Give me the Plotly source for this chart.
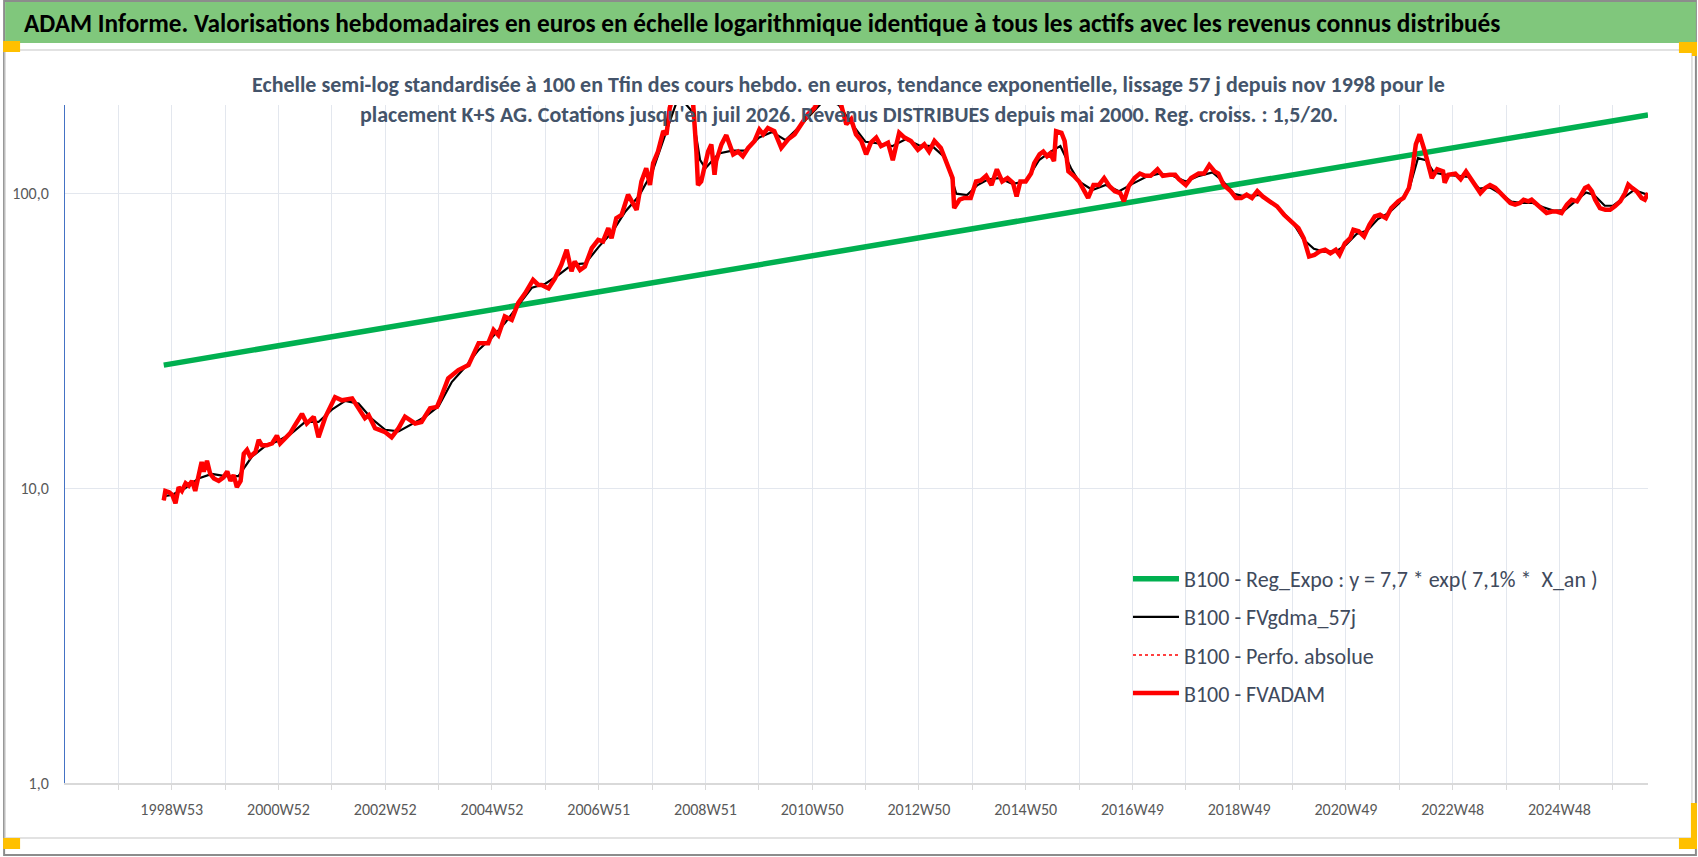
import datetime as dt
import math
import plotly.graph_objects as go

# étiquettes de l'axe des catégories (semaines ISO, une toutes les 104 semaines)
tick_labels = ["1998W53", "2000W52", "2002W52", "2004W52", "2006W51", "2008W51", "2010W50",
               "2012W50", "2014W50", "2016W49", "2018W49", "2020W49", "2022W48", "2024W48"]

# temps, en "années" de 52 semaines comptées depuis 1998W53 (= 1999.0)
t_adam = [1998.85, 1998.88, 1998.95, 1999.01, 1999.07, 1999.13, 1999.19, 1999.26, 1999.32, 1999.38,
          1999.44, 1999.51, 1999.56, 1999.60, 1999.66, 1999.72, 1999.79, 1999.88, 1999.97, 2000.04,
          2000.10, 2000.16, 2000.22, 2000.29, 2000.35, 2000.41, 2000.47, 2000.57, 2000.63, 2000.69,
          2000.78, 2000.88, 2000.97, 2001.03, 2001.13, 2001.22, 2001.31, 2001.44, 2001.53, 2001.66,
          2001.75, 2001.88, 2002.06, 2002.19, 2002.38, 2002.50, 2002.62, 2002.69, 2002.81, 2003.00,
          2003.12, 2003.25, 2003.37, 2003.56, 2003.68, 2003.84, 2003.97, 2004.06, 2004.18, 2004.37,
          2004.56, 2004.75, 2004.93, 2005.03, 2005.12, 2005.24, 2005.37, 2005.49, 2005.62, 2005.77,
          2005.87, 2005.93, 2006.06, 2006.18, 2006.30, 2006.40, 2006.49, 2006.55, 2006.65, 2006.74,
          2006.87, 2006.99, 2007.08, 2007.18, 2007.24, 2007.33, 2007.43, 2007.55, 2007.65, 2007.71,
          2007.80, 2007.89, 2007.96, 2008.02, 2008.11, 2008.21, 2008.27, 2008.33, 2008.45, 2008.60,
          2008.72, 2008.77, 2008.83, 2008.86, 2008.92, 2008.98, 2009.05, 2009.11, 2009.17, 2009.20,
          2009.30, 2009.39, 2009.52, 2009.61, 2009.70, 2009.80, 2009.92, 2010.01, 2010.08, 2010.17,
          2010.29, 2010.42, 2010.55, 2010.67, 2010.79, 2010.92, 2011.04, 2011.20, 2011.38, 2011.50,
          2011.54, 2011.64, 2011.73, 2011.82, 2011.92, 2012.01, 2012.10, 2012.20, 2012.29, 2012.42,
          2012.51, 2012.63, 2012.73, 2012.85, 2012.98, 2013.10, 2013.19, 2013.29, 2013.41, 2013.54,
          2013.63, 2013.66, 2013.76, 2013.85, 2013.97, 2014.07, 2014.16, 2014.26, 2014.36, 2014.46,
          2014.56, 2014.66, 2014.76, 2014.83, 2014.90, 2015.00, 2015.10, 2015.16, 2015.26, 2015.33,
          2015.40, 2015.46, 2015.53, 2015.57, 2015.67, 2015.73, 2015.80, 2015.90, 2016.00, 2016.10,
          2016.17, 2016.27, 2016.37, 2016.47, 2016.57, 2016.67, 2016.77, 2016.84, 2016.93, 2017.04,
          2017.14, 2017.24, 2017.34, 2017.47, 2017.57, 2017.70, 2017.80, 2017.87, 2018.00, 2018.10,
          2018.24, 2018.34, 2018.44, 2018.54, 2018.61, 2018.71, 2018.84, 2018.94, 2019.04, 2019.14,
          2019.24, 2019.34, 2019.44, 2019.57, 2019.71, 2019.84, 2019.97, 2020.11, 2020.21, 2020.31,
          2020.41, 2020.51, 2020.61, 2020.71, 2020.81, 2020.88, 2020.98, 2021.08, 2021.14, 2021.24,
          2021.34, 2021.44, 2021.54, 2021.64, 2021.75, 2021.85, 2021.98, 2022.08, 2022.18, 2022.25,
          2022.31, 2022.38, 2022.48, 2022.55, 2022.61, 2022.71, 2022.82, 2022.85, 2022.92, 2023.05,
          2023.15, 2023.25, 2023.35, 2023.48, 2023.52, 2023.61, 2023.70, 2023.80, 2023.89, 2023.98,
          2024.08, 2024.17, 2024.26, 2024.33, 2024.42, 2024.48, 2024.58, 2024.67, 2024.76, 2024.86,
          2024.95, 2025.04, 2025.14, 2025.23, 2025.33, 2025.39, 2025.48, 2025.54, 2025.61, 2025.67,
          2025.76, 2025.86, 2025.95, 2026.04, 2026.14, 2026.23, 2026.29, 2026.36, 2026.45, 2026.54,
          2026.60, 2026.66]
v_adam = [9.1, 9.8, 9.7, 9.5, 8.9, 10.1, 9.8, 10.4, 10.2, 10.6,
          9.8, 11.5, 12.3, 11.4, 12.4, 11.2, 10.8, 10.6, 10.9, 11.4,
          10.6, 11.1, 10.1, 10.6, 13.1, 13.5, 12.8, 13.3, 14.6, 14.0,
          14.0, 14.2, 15.1, 14.2, 14.8, 15.4, 16.4, 17.9, 16.6, 17.5,
          14.9, 17.5, 20.4, 19.9, 20.2, 18.7, 17.3, 17.7, 16.0, 15.5,
          14.9, 16.0, 17.5, 16.6, 16.8, 18.7, 18.9, 20.7, 23.6, 25.2,
          26.2, 31.1, 31.1, 34.5, 33.1, 38.3, 37.3, 42.5, 45.9, 51.0,
          49.0, 49.0, 47.7, 51.6, 57.4, 64.5, 54.5, 58.9, 55.1, 56.6,
          65.3, 69.7, 68.9, 76.4, 70.6, 82.6, 84.8, 99.2, 91.8, 88.2,
          110, 122, 107, 127, 139, 163, 159, 195, 235, 245,
          220, 201, 139, 107, 110, 122, 139, 147, 116, 129,
          147, 158, 136, 139, 134, 143, 151, 165, 159, 167,
          163, 143, 153, 159, 172, 186, 195, 220, 230, 212,
          201, 172, 179, 159, 151, 136, 149, 155, 145, 149,
          130, 161, 155, 151, 141, 147, 139, 151, 143, 125,
          113, 89.4, 95.4, 96.7, 96.7, 110, 111, 115, 107, 121,
          110, 113, 109, 97.9, 110, 110, 117, 127, 136, 139,
          134, 137, 129, 163, 161, 151, 119, 115, 110, 102,
          96.7, 107, 107, 113, 106, 102, 100.5, 94.2, 106, 113,
          117, 115, 115, 121, 115, 116, 116, 112, 107, 113,
          117, 117, 125, 119, 117, 107, 102, 96.7, 96.7, 99.2,
          96.7, 102, 97.9, 94.2, 90.6, 84.8, 80.5, 76.4, 70.6, 61.2,
          62.0, 63.7, 64.5, 62.8, 64.5, 62.0, 67.9, 70.6, 75.4, 74.5,
          71.6, 78.4, 83.7, 84.8, 82.6, 89.4, 94.2, 96.7, 104.5, 122,
          147, 159, 139, 122, 113, 121, 119, 109, 116, 117,
          112, 119, 112, 102, 100.5, 104.6, 107, 104.6, 100.5, 96.7,
          93.0, 91.8, 93.0, 95.4, 94.2, 95.4, 91.8, 89.4, 86.0, 87.0,
          87.0, 86.0, 91.8, 95.4, 94.2, 97.9, 104.6, 105.9, 101.8, 95.4,
          89.4, 88.2, 88.2, 90.6, 94.2, 100.5, 107.3, 104.6, 101.8, 96.7,
          95.4, 100.5]

# moyenne lissée 57 j (FVgdma_57j)
t_gdma = [1998.85, 1999.0, 1999.25, 1999.5, 1999.75, 2000.0, 2000.25, 2000.5, 2000.75, 2001.0,
          2001.25, 2001.5, 2001.75, 2002.0, 2002.25, 2002.5, 2002.75, 2003.0, 2003.25, 2003.5,
          2003.75, 2004.0, 2004.25, 2004.5, 2004.75, 2005.0, 2005.25, 2005.5, 2005.75, 2006.0,
          2006.25, 2006.5, 2006.75, 2007.0, 2007.25, 2007.5, 2007.75, 2008.0, 2008.25, 2008.5,
          2008.75, 2008.9, 2009.0, 2009.25, 2009.5, 2009.75, 2010.0, 2010.25, 2010.5, 2010.75,
          2011.0, 2011.25, 2011.5, 2011.75, 2012.0, 2012.25, 2012.5, 2012.75, 2013.0, 2013.25,
          2013.5, 2013.7, 2013.9, 2014.1, 2014.3, 2014.5, 2014.75, 2015.0, 2015.25, 2015.5,
          2015.65, 2015.85, 2016.0, 2016.25, 2016.5, 2016.75, 2017.0, 2017.25, 2017.5, 2017.75,
          2018.0, 2018.25, 2018.5, 2018.7, 2018.9, 2019.1, 2019.4, 2019.6, 2019.8, 2020.0,
          2020.2, 2020.4, 2020.6, 2020.8, 2021.0, 2021.2, 2021.4, 2021.6, 2021.8, 2022.0,
          2022.2, 2022.35, 2022.5, 2022.65, 2022.85, 2023.1, 2023.3, 2023.5, 2023.7, 2023.9,
          2024.1, 2024.3, 2024.5, 2024.7, 2024.9, 2025.1, 2025.3, 2025.5, 2025.65, 2025.85,
          2026.0, 2026.2, 2026.4, 2026.66]
v_gdma = [9.4, 9.5, 10.0, 10.8, 11.2, 11.0, 11.0, 12.8, 13.9, 14.5,
          15.4, 16.8, 16.8, 18.5, 19.8, 19.4, 17.2, 15.8, 15.6, 16.5,
          17.5, 19.0, 23.0, 25.8, 29.5, 32.5, 36.5, 42.0, 48.0, 49.5,
          53.0, 57.5, 58.0, 66.0, 74.0, 87.0, 98.0, 118, 160, 215,
          190, 130, 122, 137, 140, 140, 155, 162, 152, 168,
          188, 210, 200, 172, 150, 148, 145, 153, 146, 145,
          132, 100, 99, 107, 112, 113, 108, 110, 130, 140,
          145, 122, 110, 103, 107, 102, 108, 114, 117, 115,
          110, 115, 118, 110, 100, 98, 99, 94, 87, 80,
          70, 65, 63.5, 63.5, 67, 73, 75, 82, 86, 93,
          106, 132, 130, 118, 116, 115, 114, 104, 105, 100,
          94, 93, 93, 90, 87.5, 88, 94, 101, 99, 91,
          91, 97, 103, 99]

# régression exponentielle : extrémités
t_reg = [1998.85, 2026.66]
v_reg = [26.2, 185.0]

names = ["B100 - Reg_Expo : y = 7,7 * exp( 7,1% *  X_an )", "B100 - FVgdma_57j",
         "B100 - Perfo. absolue", "B100 - FVADAM"]

title_txt = ("ADAM Informe. Valorisations hebdomadaires en euros en échelle logarithmique identique "
             "à tous les actifs avec les revenus connus distribués")
sub1 = ("Echelle semi-log standardisée à 100 en Tfin des cours hebdo. en euros, tendance exponentielle, "
        "lissage 57 j depuis nov 1998 pour le")
sub2 = ("placement K+S AG. Cotations jusqu'en juil 2026. Revenus DISTRIBUES depuis mai 2000. "
        "Reg. croiss. : 1,5/20.")

FONT = "Carlito, Calibri, Lato, sans-serif"
W, H = 1698, 857
L, R, T, B = 62, 50, 105, 74

base = dt.datetime(*dt.date.fromisocalendar(1998, 53, 1).timetuple()[:3])


def to_date(t):
    return base + dt.timedelta(days=(t - 1999.0) * 364)


def px(x):
    return (x - L) / (W - L - R)


def py(y):
    return (H - B - y) / (H - T - B)


lab_dates = [dt.datetime(*dt.date.fromisocalendar(int(s[:4]), int(s[5:]), 1).timetuple()[:3])
             for s in tick_labels]
year = dt.timedelta(days=364)
tickvals = [lab_dates[0] - year]
ticktext = [""]
for d, s in zip(lab_dates, tick_labels):
    tickvals += [d, d + year]
    ticktext += [s, ""]

fig = go.Figure()
fig.add_trace(go.Scatter(x=[to_date(t) for t in t_reg], y=v_reg, mode="lines", name=names[0],
                         legendgroup="a", line=dict(color="#00b050", width=5.5)))
fig.add_trace(go.Scatter(x=[to_date(t) for t in t_gdma], y=v_gdma, mode="lines", name=names[1],
                         legendgroup="b", line=dict(color="#000000", width=2.2)))
fig.add_trace(go.Scatter(x=[to_date(t) for t in t_adam], y=v_adam, mode="lines", name=names[2],
                         legendgroup="c", line=dict(color="#ff0000", width=1.5, dash="dot")))
fig.add_trace(go.Scatter(x=[to_date(t) for t in t_adam], y=v_adam, mode="lines", name=names[3],
                         legendgroup="d", line=dict(color="#ff0000", width=4.5)))

shapes = [
    # cadre extérieur
    dict(type="rect", xref="paper", yref="paper", x0=px(1), x1=px(1696), y0=py(855), y1=py(1),
         line=dict(color="#8c8c8c", width=2), layer="below"),
    # zone du graphique
    dict(type="rect", xref="paper", yref="paper", x0=px(2), x1=px(1692), y0=py(838), y1=py(50),
         line=dict(color="#d9d9d9", width=1.5), layer="below"),
    # bandeau titre
    dict(type="rect", xref="paper", yref="paper", x0=px(2), x1=px(1696), y0=py(43), y1=py(2),
         fillcolor="#80c77c", line=dict(width=0), layer="below"),
]
for (x0, y0, x1, y1) in [(0, 41, 17, 52), (1679, 42, 1697, 53), (1692, 42, 1697, 56),
                         (0, 838, 17, 849), (1679, 838, 1697, 849), (1691, 803, 1697, 849)]:
    shapes.append(dict(type="rect", xref="paper", yref="paper", x0=px(x0), x1=px(x1),
                       y0=py(y1), y1=py(y0), fillcolor="#ffc000", line=dict(width=0)))

fig.update_layout(
    width=W, height=H,
    margin=dict(l=L, r=R, t=T, b=B),
    paper_bgcolor="white", plot_bgcolor="white",
    font=dict(family=FONT, color="#595959"),
    title=dict(text="<b>" + title_txt + "</b>", x=24 / W, xanchor="left", xref="container",
               y=1 - 23 / H, yanchor="middle", yref="container",
               font=dict(family=FONT, size=25.3, color="#000000")),
    shapes=shapes,
    annotations=[
        dict(text="<b>" + sub1 + "</b>", xref="paper", yref="paper", x=px(847), y=py(84.5),
             xanchor="center", yanchor="middle", showarrow=False,
             font=dict(family=FONT, size=22, color="#44546a")),
        dict(text="<b>" + sub2 + "</b>", xref="paper", yref="paper", x=px(847), y=py(114),
             xanchor="center", yanchor="middle", showarrow=False,
             font=dict(family=FONT, size=22, color="#44546a")),
    ],
    legend=dict(x=px(1127), y=py(558), xanchor="left", yanchor="top",
                bgcolor="rgba(0,0,0,0)", tracegroupgap=6.5, itemwidth=46,
                font=dict(family=FONT, size=22, color="#404a5c")),
    showlegend=True,
)

fig.update_xaxes(
    type="date",
    range=[lab_dates[0] - 2 * year, to_date(2026.66)],
    tickmode="array", tickvals=tickvals, ticktext=ticktext,
    showgrid=True, gridcolor="#e3e7ee", gridwidth=1,
    showline=True, linecolor="#d9d9d9", linewidth=2,
    ticks="outside", ticklen=5, tickcolor="#d9d9d9",
    tickfont=dict(family=FONT, size=16, color="#595959"),
    ticklabelstandoff=6,
    zeroline=False,
)
fig.update_yaxes(
    type="log",
    range=[0, math.log10(200)],
    tickmode="array", tickvals=[1, 10, 100], ticktext=["1,0", "10,0", "100,0"],
    showgrid=True, gridcolor="#e3e7ee", gridwidth=1,
    showline=True, linecolor="#4472c4", linewidth=1,
    ticks="", ticklabelstandoff=12,
    tickfont=dict(family=FONT, size=16, color="#595959"),
    zeroline=False,
)

# la page a une marge par défaut de 8 px : on la supprime pour caler la figure sur la fenêtre
fig.write_html("out.html", config={"displayModeBar": False},
               post_script="document.body.style.margin='0px';")
